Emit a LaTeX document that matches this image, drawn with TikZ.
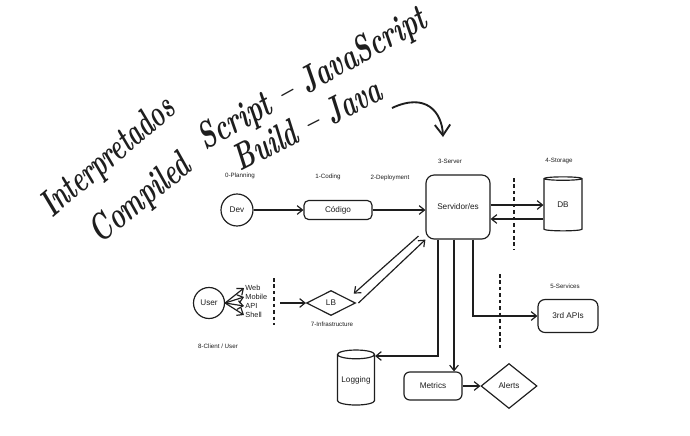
\documentclass[tikz,border=0pt]{standalone}
\usepackage{fontspec}
\setsansfont{Liberation Sans}
\usetikzlibrary{arrows.meta,positioning,shapes.geometric}
\definecolor{archInk}{HTML}{1E1E1E}
\tikzset{
  every picture/.style={font=\sffamily\fontsize{7}{8}\selectfont, text=archInk},
  arch box/.style={draw=archInk, line width=1pt, rounded corners=4pt,
    fill=white, align=center, inner sep=0pt},
  arch round/.style={circle, draw=archInk, line width=1pt, inner sep=0pt},
  arch drum/.style={cylinder, shape border rotate=90, aspect=0.3,
    draw=archInk, line width=1pt, inner sep=0pt},
  arch gate/.style={diamond, draw=archInk, line width=1pt, inner sep=0pt},
  arch arrow/.style={-{Straight Barb[length=1.6mm,width=2.6mm]},
    draw=archInk, line width=1pt},
  arch guide/.style={draw=archInk, line width=1pt, dash pattern=on 3pt off 2.5pt},
  arch tag/.style={font=\sffamily\fontsize{5.3}{6}\selectfont},
  arch fan/.style={font=\sffamily\fontsize{6.3}{7}\selectfont, inner sep=1pt},
  arch hand/.style={font=\bfseries\itshape\fontsize{32}{36}\selectfont, inner sep=0pt},
  arch sketch/.style={-{Straight Barb[length=3.2mm,width=4.6mm]},
    draw=archInk, line width=1.6pt}
}

\begin{document}
\begin{tikzpicture}[x=0.03cm,y=-0.03cm]
  \useasboundingbox[fill=white] (0,0) rectangle (690,435);
  % handwritten notes
  \node[arch hand, rotate=40, xscale=0.65] (interp) at (109,158) {Interpretados};
  \node[arch hand, rotate=39, xscale=0.68] (compiled) at (141,200) {Compiled};
  \node[arch hand, rotate=29, xscale=0.70] (script) at (313,80) {Script -- JavaScript};
  \node[arch hand, rotate=27, xscale=0.67] (build) at (307,124) {Build -- Java};
  \coordinate (pen from) at (392,108);
  \coordinate (pen to) at (443,137);
  \draw[arch sketch] (pen from) .. controls (426,92) and (442,112) .. (pen to);

  % stages
  \node[arch round, minimum size=9.6mm] (dev) at (237,210) {Dev};
  \node[arch box, minimum width=20.4mm, minimum height=5.7mm] (code) at (338,210) {Código};
  \node[arch box, rounded corners=7pt, minimum width=19.2mm, minimum height=19.2mm] (srv) at (458,207) {Servidor/es};
  \node[arch drum, minimum width=11.4mm, minimum height=16.2mm] (db) at (563,205) {DB};
  \node[arch box, rounded corners=6pt, minimum width=18mm, minimum height=9.9mm] (api) at (568,316) {3rd APIs};
  \node[arch gate, aspect=2, minimum width=14.7mm, minimum height=7.5mm] (lb) at (331,303) {LB};
  \node[arch round, minimum size=9.3mm] (usr) at (209,303) {User};
  \node[arch drum, minimum width=11.1mm, minimum height=16.5mm] (log) at (356,380) {Logging};
  \node[arch box, rounded corners=5pt, minimum width=17.4mm, minimum height=8.4mm] (met) at (433,386) {Metrics};
  \node[arch gate, aspect=1.25, minimum width=16.8mm, minimum height=13.5mm] (alr) at (509,386) {Alerts};

  % stage tags
  \node[arch tag] (planning) at (240,176) {0-Planning};
  \node[arch tag] (coding) at (328,177) {1-Coding};
  \node[arch tag] (deployment) at (390,178) {2-Deployment};
  \node[arch tag] (server) at (450,161) {3-Server};
  \node[arch tag] (storage) at (559,161) {4-Storage};
  \node[arch tag] (services) at (565,286) {5-Services};
  \node[arch tag] (infra) at (332,324) {7-Infrastructure};
  \node[arch tag] (client) at (218,346) {8-Client / User};

  % client channels
  \node[arch fan, anchor=west] (web) at (244,288) {Web};
  \node[arch fan, anchor=west] (mobile) at (244,297) {Mobile};
  \node[arch fan, anchor=west] (apiw) at (244,306) {API};
  \node[arch fan, anchor=west] (shell) at (244,315) {Shell};
  \foreach \ch in {web,mobile,apiw,shell}
    \draw[arch arrow] (usr.east) -- (\ch.west);

  % boundaries
  \draw[arch guide] (274,278) -- (274,325);
  \draw[arch guide] (514,178) -- (514,250);
  \draw[arch guide] (500,274) -- (500,349);

  % taps
  \coordinate (entry) at (280,303);
  \coordinate (colA) at (438,0);
  \coordinate (colB) at (454,0);
  \coordinate (colC) at (473,0);
  \coordinate (rowLog) at (0,356);
  \coordinate (rowDbA) at (0,205);
  \coordinate (rowDbB) at (0,219);

  % flows
  \draw[arch arrow] (dev) -- (code);
  \draw[arch arrow] (code.east) -- (code.east -| srv.west);
  \draw[arch arrow] (srv.east |- rowDbA) -- (db.west |- rowDbA);
  \draw[arch arrow] (db.west |- rowDbB) -- (srv.east |- rowDbB);
  \draw[arch arrow] (entry) -- (lb.west);
  \draw[arch arrow] ([shift={(-6pt,3pt)}]srv.south west) -- ([shift={(-2pt,8pt)}]lb.east);
  \draw[arch arrow] ([xshift=2pt]lb.east) -- (srv.south west);
  \draw[arch arrow] (srv.south -| colA) |- (log.east |- rowLog);
  \draw[arch arrow] (srv.south -| colB) -- (met.north -| colB);
  \draw[arch arrow] (srv.south -| colC) |- (api.west);
  \draw[arch arrow] (met) -- (alr);
\end{tikzpicture}
\end{document}
